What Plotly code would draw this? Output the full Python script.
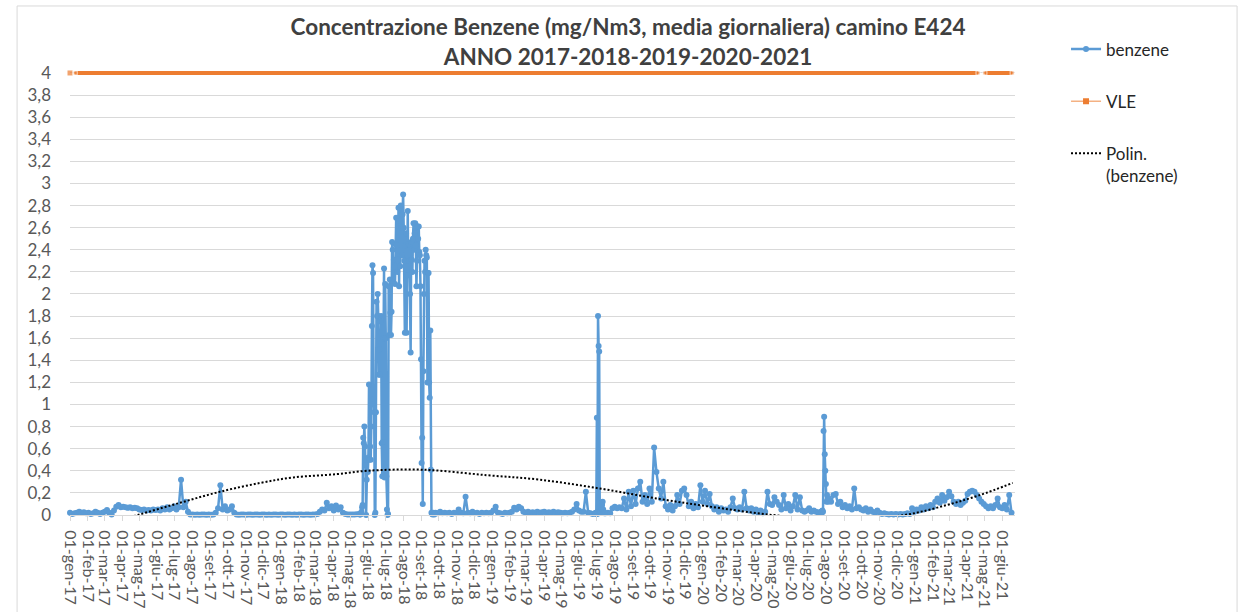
import pandas as pd
import plotly.graph_objects as go

# benzene, daily means in mg/Nm3
# each stretch: first date, days between readings, readings
s1_start, s1_step = "2017-01-01", 4
s1 = [0.02, 0.01, 0.015, 0.02, 0.03, 0.02, 0.025, 0.015, 0.02, 0.01,
      0.015, 0.03, 0.02, 0.01, 0.02, 0.03, 0.045, 0.02, 0.005, 0.04,
      0.075, 0.09, 0.07, 0.075, 0.07, 0.065, 0.07, 0.06, 0.065, 0.06,
      0.05, 0.045, 0.05, 0.04, 0.045, 0.04, 0.05, 0.045, 0.05, 0.04,
      0.06, 0.05, 0.07, 0.05, 0.06, 0.08, 0.05, 0.07, 0.32, 0.07,
      0.12, 0.03, 0.005, 0.005, 0.003, 0.004, 0.003, 0.005, 0.004, 0.003,
      0.004, 0.003, 0.005, 0.02, 0.06, 0.27, 0.05, 0.08, 0.04, 0.05,
      0.08, 0.02, 0.005, 0.003, 0.005, 0.004, 0.003, 0.005, 0.004, 0.003,
      0.004, 0.005, 0.003, 0.004, 0.005, 0.003, 0.004, 0.003, 0.005, 0.004,
      0.003, 0.005, 0.004, 0.003, 0.004, 0.005, 0.003, 0.004, 0.003, 0.005,
      0.004, 0.003, 0.005, 0.004, 0.003, 0.004, 0.005, 0.01, 0.03, 0.05,
      0.04, 0.11, 0.06, 0.08, 0.04, 0.085, 0.05, 0.07, 0.02, 0.01,
      0.005, 0.005, 0.004, 0.005, 0.006, 0.01]

s2_start, s2_step = "2018-05-17", 1
s2 = [0.005, 0.005, 0.01, 0.03, 0.07, 0.09, 0.70, 0.65, 0.80, 0.62,
      0.45, 0.0, 0.32, 0.50, 0.39, 0.52, 1.18, 0.50, 0.62, 0.50,
      0.80, 1.71, 2.26, 2.19, 1.05, 0.93, 0.0, 0.02, 0.93, 1.93,
      1.80, 2.00, 1.80, 1.27, 1.50, 1.27, 1.75, 1.80, 0.65, 0.35,
      0.66, 1.60, 2.23, 0.34, 2.09, 1.60, 0.35, 0.05, 0.0, 0.01,
      2.07, 1.63, 2.13, 1.83, 1.63, 1.84, 2.47, 2.40, 2.10, 2.31,
      2.25, 2.09, 2.45, 2.69, 2.44, 2.20, 2.31, 2.78, 2.07, 2.66,
      2.25, 2.80, 2.60, 2.35, 2.72, 2.90, 2.60, 2.30, 1.65, 2.44,
      2.55, 1.65, 2.17, 2.75, 2.17, 2.45, 2.30, 2.00, 1.47, 2.47,
      2.31, 2.20, 2.50, 2.64, 2.40, 2.55, 2.64, 2.44, 2.07, 2.30,
      2.61, 2.50, 2.61, 2.38, 2.35, 2.07, 1.41, 0.47, 0.70, 0.10,
      1.30, 2.00, 2.30, 2.20, 2.40, 2.35, 2.33, 1.20, 2.19, 2.19,
      1.20, 1.06, 1.67, 0.41, 0.02, 0.01, 0.005, 0.02, 0.01, 0.005]

s3_start, s3_step = "2018-09-25", 4
s3 = [0.02, 0.015, 0.03, 0.015, 0.02, 0.015, 0.02, 0.01, 0.02, 0.015,
      0.05, 0.02, 0.015, 0.165, 0.02, 0.015, 0.03, 0.015, 0.02, 0.01,
      0.02, 0.015, 0.02, 0.015, 0.02, 0.04, 0.075, 0.02, 0.015, 0.01,
      0.02, 0.015, 0.02, 0.03, 0.065, 0.05, 0.075, 0.06, 0.03, 0.02,
      0.03, 0.02, 0.025, 0.02, 0.03, 0.02, 0.025, 0.03, 0.02, 0.025,
      0.02, 0.03, 0.02, 0.025, 0.02, 0.015, 0.02, 0.015, 0.02, 0.03,
      0.05, 0.10, 0.04, 0.03, 0.03, 0.21, 0.02, 0.015, 0.01, 0.015]

s4_start, s4_step = "2019-06-29", 1
s4 = [0.02, 0.01, 0.88, 0.01, 1.80, 1.53, 1.48, 0.02, 0.03, 0.02,
      0.06, 0.09, 0.12, 0.05, 0.02, 0.015]

s5_start, s5_step = "2019-07-16", 4
s5 = [0.015, 0.02, 0.015, 0.06, 0.075, 0.06, 0.07, 0.06, 0.15, 0.05,
      0.21, 0.08, 0.22, 0.10, 0.24, 0.30, 0.12, 0.18, 0.10, 0.24,
      0.12, 0.61, 0.39, 0.24, 0.15, 0.30, 0.08, 0.05, 0.09, 0.04,
      0.08, 0.18, 0.10, 0.22, 0.24, 0.18, 0.08, 0.12, 0.06, 0.10,
      0.07, 0.27, 0.12, 0.22, 0.10, 0.19, 0.08, 0.05, 0.07, 0.03,
      0.06, 0.04, 0.05, 0.03, 0.07, 0.15, 0.06, 0.05, 0.07, 0.05,
      0.21, 0.06, 0.04, 0.06, 0.03, 0.05, 0.02, 0.04, 0.015, 0.03,
      0.21, 0.10, 0.09, 0.16, 0.12, 0.09, 0.05, 0.18, 0.06, 0.10,
      0.04, 0.08, 0.18, 0.05, 0.16, 0.04, 0.03, 0.04, 0.06, 0.03,
      0.04, 0.03, 0.02, 0.03]

s6_start, s6_step = "2020-07-23", 1
s6 = [0.03, 0.02, 0.04, 0.03, 0.76, 0.89, 0.55, 0.40, 0.28, 0.12,
      0.18, 0.14, 0.12]

s7_start, s7_step = "2020-08-05", 4
s7 = [0.15, 0.12, 0.18, 0.19, 0.10, 0.12, 0.07, 0.09, 0.06, 0.08,
      0.05, 0.24, 0.06, 0.07, 0.05, 0.04, 0.06, 0.03, 0.05, 0.03,
      0.02, 0.04, 0.02, 0.01, 0.015, 0.01, 0.005, 0.01, 0.005, 0.01,
      0.005, 0.01, 0.005, 0.01, 0.015, 0.01, 0.06, 0.03, 0.05, 0.04,
      0.07, 0.05, 0.08, 0.06, 0.09, 0.07, 0.12, 0.15, 0.11, 0.18,
      0.13, 0.16, 0.21, 0.17, 0.12, 0.10, 0.12, 0.09, 0.11, 0.13,
      0.19, 0.21, 0.22, 0.21, 0.18, 0.15, 0.12, 0.10, 0.08, 0.06,
      0.08, 0.06, 0.09, 0.15, 0.07, 0.06, 0.09, 0.05, 0.18, 0.02]

# VLE (limit value), with the missing days
vle_dates = ["2017-01-01", "2017-01-05", "2017-01-10", "2021-04-20",
             "2021-04-26", "2021-05-02", "2021-06-18"]
vle = [4, None, 4, 4, None, 4, 4]

# polynomial trendline as drawn by Excel (goes below 0 and is clipped)
trend_dates = ["2017-01-01", "2017-03-01", "2017-04-28", "2017-07-10",
               "2017-09-17", "2017-11-26", "2018-01-22", "2018-04-08",
               "2018-05-30", "2018-09-03", "2018-12-23", "2019-03-24",
               "2019-07-06", "2019-10-12", "2020-01-07", "2020-04-30",
               "2020-08-20", "2020-12-14", "2021-02-25", "2021-04-23",
               "2021-06-19"]
trend = [-0.22, -0.09, 0.0, 0.11, 0.21, 0.29, 0.34, 0.37, 0.40, 0.41,
         0.36, 0.32, 0.24, 0.15, 0.08, 0.0, -0.05, 0.0, 0.09, 0.18, 0.29]

mesi = ["gen", "feb", "mar", "apr", "mag", "giu",
        "lug", "ago", "set", "ott", "nov", "dic"]
tick_dates = pd.date_range("2017-01-01", "2021-06-01", freq="MS")
tick_text = ["01-%s-%s" % (mesi[d.month - 1], d.strftime("%y")) for d in tick_dates]
y_ticks = [i / 5 for i in range(21)]

# join the stretches into one series
x_b, y_b = [], []
for start, step, vals in [(s1_start, s1_step, s1), (s2_start, s2_step, s2),
                          (s3_start, s3_step, s3), (s4_start, s4_step, s4),
                          (s5_start, s5_step, s5), (s6_start, s6_step, s6),
                          (s7_start, s7_step, s7)]:
    x_b += list(pd.date_range(start, periods=len(vals), freq="%dD" % step))
    y_b += vals

font = "Lato, 'Open Sans', sans-serif"
blue, orange = "#5B9BD5", "#ED7D31"

fig = go.Figure()
fig.add_trace(go.Scatter(x=x_b, y=y_b, name="benzene", mode="lines+markers",
                         line=dict(color=blue, width=2.5),
                         marker=dict(symbol="circle", size=6, color=blue),
                         cliponaxis=False, legendgroup="a"))
fig.add_trace(go.Scatter(x=vle_dates, y=vle, name="VLE", mode="lines+markers",
                         line=dict(color=orange, width=4),
                         marker=dict(symbol="square", color=orange,
                                     size=[6, 0, 4, 4, 0, 4, 4]),
                         cliponaxis=False, legendgroup="b", showlegend=False))
# legend entry for VLE drawn thinner, as in the original
fig.add_trace(go.Scatter(x=[None], y=[None], name="VLE", mode="lines+markers",
                         line=dict(color="#F4B183", width=1.5),
                         marker=dict(symbol="square", size=6, color=orange),
                         legendgroup="b"))
fig.add_trace(go.Scatter(x=trend_dates, y=trend, name="Polin.<br>(benzene)",
                         mode="lines", line=dict(color="black", width=2, dash="2px,2px",
                                                 shape="spline"),
                         legendgroup="c"))

fig.update_layout(
    width=1240, height=612,
    margin=dict(l=70, r=225, t=69, b=97, autoexpand=False),
    paper_bgcolor="white", plot_bgcolor="white",
    separators=",.",
    font=dict(family=font, size=17, color="#595959"),
    title=dict(text="<b>Concentrazione Benzene (mg/Nm3, media giornaliera) camino E424<br>"
                    "ANNO 2017-2018-2019-2020-2021</b>",
               x=0.5065, xanchor="center", y=0.942, yanchor="top",
               font=dict(size=22.5, color="#404040")),
    legend=dict(x=1.054, xanchor="left", y=1.084, yanchor="top",
                traceorder="grouped", tracegroupgap=27, valign="top",
                font=dict(size=17, color="#262626"), bgcolor="rgba(0,0,0,0)"),
    xaxis=dict(type="date", range=["2017-01-01", "2021-06-23"], automargin=False,
               tickmode="array", tickvals=tick_dates, ticktext=tick_text,
               tickangle=90, tickfont=dict(size=16), ticklabelstandoff=6,
               showgrid=False, zeroline=False,
               showline=True, linecolor="#D9D9D9", linewidth=1,
               ticks="outside", ticklen=5, tickcolor="#D9D9D9"),
    # a little headroom above 4 so the thick VLE line is not cut in half
    yaxis=dict(range=[0, 4.036], tickmode="array", tickvals=y_ticks, automargin=False,
               showgrid=True, gridcolor="#D9D9D9", gridwidth=1,
               zeroline=False, showline=False, ticks="",
               ticklabelstandoff=18, tickfont=dict(size=17)),
    shapes=[dict(type="rect", xref="paper", yref="paper",
                 x0=-0.056, x1=1.235, y0=-0.235, y1=1.1413,
                 line=dict(color="#D9D9D9", width=1), layer="below")],
)

# the page body has a default 8px margin; drop it so the chart sits at 0,0
fig.write_html("out.html", config={"displayModeBar": False},
               post_script="document.body.style.margin='0';")
